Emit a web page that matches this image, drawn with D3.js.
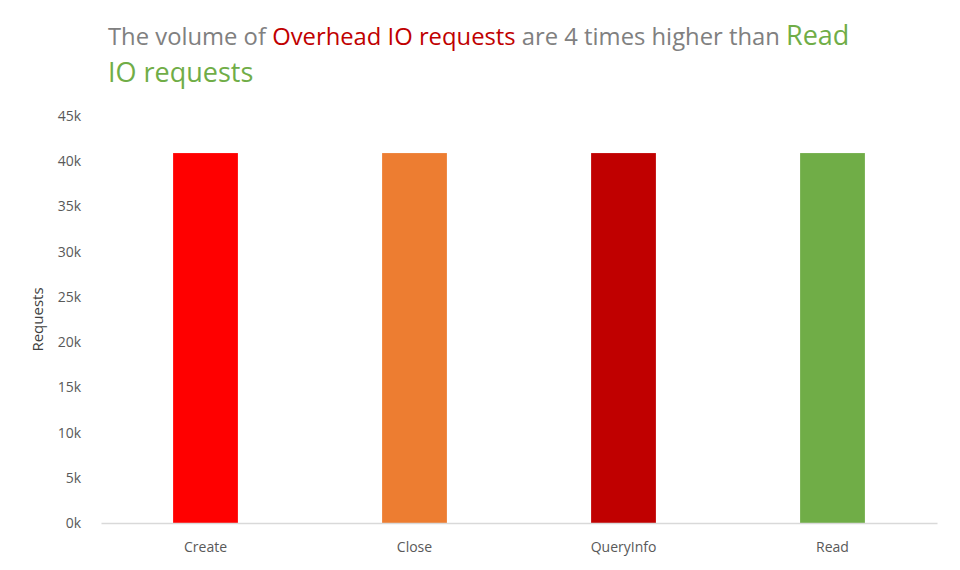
<!DOCTYPE html>
<html><head><meta charset="utf-8">
<script src="https://cdn.jsdelivr.net/npm/d3@7"></script>
<style>body{margin:0;background:#fff;}svg{display:block;font-family:"Open Sans","Noto Sans",sans-serif;}</style>
</head><body>
<svg id="c" width="960" height="570"></svg>
<script>
const categories = ["Create", "Close", "QueryInfo", "Read"];
const values = [40900, 40900, 40900, 40900];
const barColors = ["#FF0000", "#ED7D31", "#C00000", "#70AD47"];
const yTicks = [0, 5000, 10000, 15000, 20000, 25000, 30000, 35000, 40000, 45000];
const yTickLabels = ["0k","5k","10k","15k","20k","25k","30k","35k","40k","45k"];

const svg = d3.select("#c");
const m = {left: 101, right: 23, top: 116, bottom: 47};
const W = 960, H = 570;
const x = d3.scaleBand().domain(categories).range([m.left, W - m.right]).paddingInner(0.69).paddingOuter(0.345);
const y = d3.scaleLinear().domain([0, 45000]).range([H - m.bottom, m.top]);

// bars
svg.append("g").selectAll("rect").data(categories).join("rect")
  .attr("x", d => x(d)).attr("width", x.bandwidth())
  .attr("y", (d,i) => y(values[i])).attr("height", (d,i) => y(0) - y(values[i]))
  .attr("fill", (d,i) => barColors[i]);

// x axis
const xa = svg.append("g").attr("transform", `translate(0,${y(0)})`)
  .call(d3.axisBottom(x).tickSize(0).tickPadding(19));
xa.select(".domain").attr("stroke", "#d9d9d9").attr("stroke-width", 1.3);
xa.selectAll("text").attr("fill", "#595959").style("font-size", "14px").style("font-family", "\"Open Sans\",sans-serif");

// y axis
const ya = svg.append("g").attr("transform", `translate(${m.left},0)`)
  .call(d3.axisLeft(y).tickValues(yTicks).tickFormat((d,i) => yTickLabels[i]).tickSize(0).tickPadding(20));
ya.select(".domain").remove();
ya.selectAll("text").attr("fill", "#595959").style("font-size", "14px").style("font-family", "\"Open Sans\",sans-serif");

// y axis title
svg.append("text").attr("transform", `translate(43,${(y(0)+y(45000))/2}) rotate(-90)`)
  .attr("text-anchor", "middle").attr("fill", "#404040").style("font-size", "15px").text("Requests");

// title
const t1 = svg.append("text").attr("x", 108).attr("y", 45).style("font-size", "23.8px");
t1.append("tspan").attr("fill", "#808080").text("The volume of ");
t1.append("tspan").attr("fill", "#C00000").text("Overhead IO requests");
t1.append("tspan").attr("fill", "#808080").text(" are 4 times higher than ");
t1.append("tspan").attr("fill", "#70AD47").style("font-size", "27px").text("Read");
svg.append("text").attr("x", 108).attr("y", 82).attr("fill", "#70AD47").style("font-size", "27px").text("IO requests");
</script>
</body></html>
